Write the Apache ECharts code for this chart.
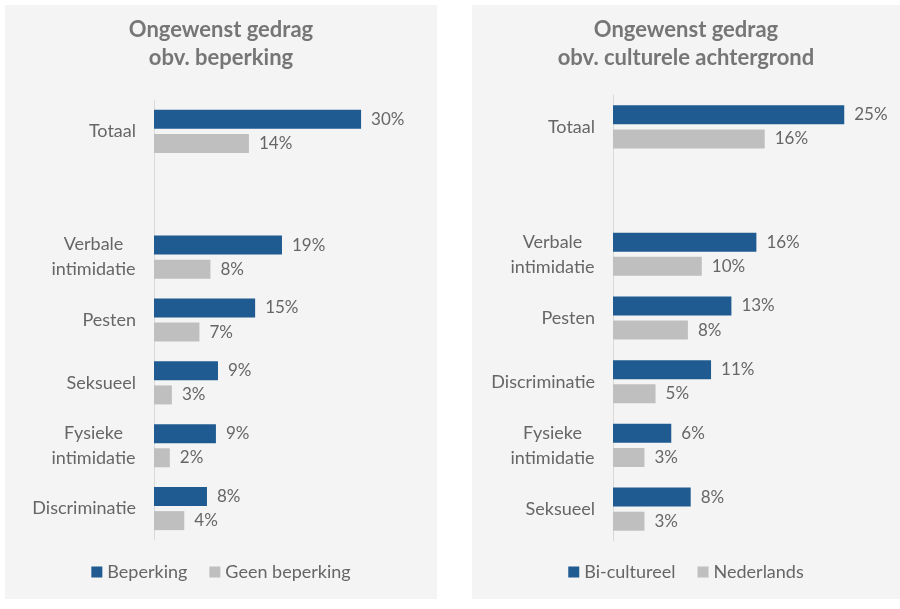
<!DOCTYPE html>
<html><head><meta charset="utf-8">
<script src="https://cdn.jsdelivr.net/npm/echarts@6/dist/echarts.min.js"></script>
<style>
html,body{margin:0;padding:0;background:#fff;width:900px;height:609px;overflow:hidden}
.panel{position:absolute;background:#f4f4f4}
</style></head><body>
<div id="c1" class="panel" style="left:5px;top:5px;width:432px;height:594px"></div>
<div id="c2" class="panel" style="left:472px;top:5px;width:428px;height:594px"></div>
<script>
// Left chart data
var catsLeft = ['Totaal', '', 'Verbale\nintimidatie', 'Pesten', 'Seksueel', 'Fysieke\nintimidatie', 'Discriminatie'];
var beperking = [30.1, null, 18.6, 14.7, 9.3, 9.0, 7.7];
var geenBeperking = [13.8, null, 8.2, 6.6, 2.6, 2.3, 4.4];
// Right chart data
var catsRight = ['Totaal', '', 'Verbale\nintimidatie', 'Pesten', 'Discriminatie', 'Fysieke\nintimidatie', 'Seksueel'];
var biCultureel = [25.0, null, 15.5, 12.8, 10.6, 6.3, 8.4];
var nederlands = [16.4, null, 9.6, 8.1, 4.6, 3.4, 3.4];

var FONT = 'Lato';
var TXT = '#666666';
var BLUE = '#1f5b91';
var GREY = '#bfbfbf';
var LFS = 18;

var ctx = document.createElement('canvas').getContext('2d');
ctx.font = LFS + 'px ' + FONT;
function labelFmt(v) {
  if (v.indexOf('\n') < 0) return v;
  return v.split('\n').map(function (l) { return '{c|' + l + '}'; }).join('\n');
}
function maxLineW(cats) {
  var m = 0;
  cats.forEach(function (c) { if (c.indexOf('\n') >= 0) c.split('\n').forEach(function (l) { m = Math.max(m, ctx.measureText(l).width); }); });
  return Math.ceil(m) + 1;
}

function build(titleText, cats, s1, s2, n1, n2, gridLeft, gridTop, gridH, xmax, gridW) {
  var lbl = {
    show: true, position: 'right', distance: 10, color: TXT, fontSize: 17, fontFamily: FONT,
    formatter: function (p) { return p.value == null ? '' : Math.round(p.value) + '%'; }
  };
  return {
    animation: false,
    title: {
      text: titleText, left: 'center', top: 11, padding: 0,
      textStyle: { color: '#767676', fontSize: 22, fontWeight: 'bold', fontFamily: FONT, lineHeight: 28 }
    },
    legend: {
      data: [n1, n2], top: 558, left: 'center', itemWidth: 11, itemHeight: 11, itemGap: 22, padding: 0,
      icon: 'rect',
      textStyle: { color: TXT, fontSize: 18, fontFamily: FONT }
    },
    grid: { left: gridLeft, top: gridTop, height: gridH, width: gridW },
    xAxis: { type: 'value', min: 0, max: xmax, show: false, splitLine: { show: false } },
    yAxis: {
      type: 'category', data: cats, inverse: true,
      axisLine: { show: true, lineStyle: { color: '#d9d9d9' } },
      axisTick: { show: false },
      axisLabel: {
        color: TXT, fontSize: LFS, fontFamily: FONT, margin: 18, lineHeight: 25,
        formatter: labelFmt,
        rich: { c: { width: maxLineW(cats), align: 'center', color: TXT, fontSize: LFS, fontFamily: FONT, lineHeight: 25 } }
      }
    },
    series: [
      { name: n1, type: 'bar', data: s1, barWidth: 19, barGap: '27%', itemStyle: { color: BLUE }, label: lbl },
      { name: n2, type: 'bar', data: s2, barWidth: 19, barGap: '27%', itemStyle: { color: GREY }, label: lbl }
    ]
  };
}

var ch1 = echarts.init(document.getElementById('c1'));
ch1.setOption(build('Ongewenst gedrag\nobv. beperking', catsLeft, beperking, geenBeperking,
  'Beperking', 'Geen beperking', 149, 95, 440, 40, 275.2));
var ch2 = echarts.init(document.getElementById('c2'));
ch2.setOption(build('Ongewenst gedrag\nobv. culturele achtergrond', catsRight, biCultureel, nederlands,
  'Bi-cultureel', 'Nederlands', 141, 90, 446, 30, 277.5));
</script>
</body></html>
